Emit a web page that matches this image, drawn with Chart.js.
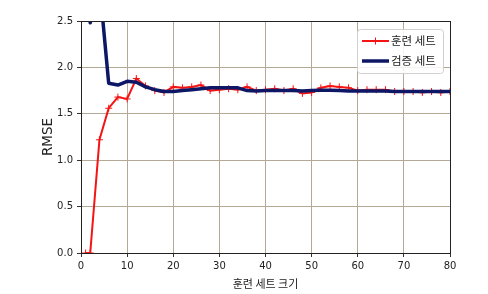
<!DOCTYPE html>
<html lang="ko">
<head>
    <meta charset="UTF-8">
    <title>Learning curves</title>
    <script src="https://cdn.jsdelivr.net/npm/chart.js@4.4.0/dist/chart.umd.min.js"></script>
    <style>
        body {
            margin: 0;
            background: #ffffff;
        }

        .chart-box {
            width: 488px;
            height: 294px;
        }
    </style>
</head>

<body>
    <div class="chart-box">
        <canvas id="myChart" width="488" height="294"></canvas>
    </div>
    <script>
        // training set sizes (x)
        const sizes = [1, 2, 4, 6, 8, 10, 12, 14, 16, 18, 20, 22, 24, 26, 28, 30, 32, 34, 36, 38, 40,
            42, 44, 46, 48, 50, 52, 54, 56, 58, 60, 62, 64, 66, 68, 70, 72, 74, 76, 78, 80];

        const trainRmse = [0, 0, 1.22, 1.56, 1.68, 1.66, 1.88, 1.80, 1.75, 1.73, 1.79,
            1.78, 1.79, 1.81, 1.75, 1.76, 1.77, 1.76, 1.79, 1.75, 1.76,
            1.77, 1.75, 1.77, 1.72, 1.73, 1.78, 1.80, 1.79, 1.78, 1.75,
            1.76, 1.76, 1.76, 1.74, 1.74, 1.74, 1.73, 1.74, 1.73, 1.74];

        const valRmse = [3.6, 2.48, 2.9, 1.83, 1.81, 1.85, 1.84, 1.79, 1.76, 1.74, 1.74,
            1.75, 1.76, 1.77, 1.78, 1.78, 1.78, 1.78, 1.75, 1.745, 1.75,
            1.75, 1.75, 1.75, 1.745, 1.75, 1.755, 1.755, 1.75, 1.745, 1.745,
            1.745, 1.745, 1.745, 1.74, 1.74, 1.74, 1.74, 1.74, 1.74, 1.74];

        const seriesNames = ["훈련 세트", "검증 세트"];
        const xTicks = [0, 10, 20, 30, 40, 50, 60, 70, 80];
        const yTicks = [0.0, 0.5, 1.0, 1.5, 2.0, 2.5];

        const xTitle = "훈련 세트 크기";
        const yTitle = "RMSE";

        const RED = "#f41414";
        const NAVY = "#0d1766";
        const GRID = "#b3a994";
        const numFont = "'DejaVu Sans', sans-serif";
        const krFont = "'Noto Sans CJK KR', 'DejaVu Sans', sans-serif";

        function toPoints(ys) {
            var pts = [];
            for (var i = 0; i < sizes.length; i++) {
                pts.push({ x: sizes[i], y: ys[i] });
            }
            return pts;
        }

        // black box round the plot, like matplotlib spines
        const framePlugin = {
            id: "frame",
            afterDatasetsDraw(chart) {
                const a = chart.chartArea;
                const ctx = chart.ctx;
                ctx.save();
                ctx.strokeStyle = "#222222";
                ctx.lineWidth = 1;
                ctx.strokeRect(Math.round(a.left) + 0.5, Math.round(a.top) + 0.5,
                    Math.round(a.right - a.left), Math.round(a.bottom - a.top));
                ctx.restore();
            }
        };

        // legend drawn inside the plot, upper right
        const boxLegend = {
            id: "boxLegend",
            afterDraw(chart) {
                const ctx = chart.ctx;
                const a = chart.chartArea;
                const w = 86, h = 44;
                const x0 = a.right - w - 7, y0 = a.top + 8;
                ctx.save();
                ctx.fillStyle = "rgba(255,255,255,0.85)";
                ctx.strokeStyle = "#d0d0d0";
                ctx.lineWidth = 1;
                ctx.beginPath();
                ctx.roundRect(x0 + 0.5, y0 + 0.5, w, h, 3);
                ctx.fill();
                ctx.stroke();

                ctx.font = "11.5px " + krFont;
                ctx.textBaseline = "middle";
                chart.data.datasets.forEach(function (ds, i) {
                    var y = y0 + 12 + i * 20;
                    ctx.strokeStyle = ds.borderColor;
                    ctx.lineWidth = ds.borderWidth;
                    ctx.beginPath();
                    ctx.moveTo(x0 + 5, y);
                    ctx.lineTo(x0 + 32, y);
                    ctx.stroke();
                    if (ds.pointRadius > 0) {
                        ctx.lineWidth = 1;
                        ctx.beginPath();
                        ctx.moveTo(x0 + 18.5, y - 3.5);
                        ctx.lineTo(x0 + 18.5, y + 3.5);
                        ctx.stroke();
                    }
                    ctx.fillStyle = "#222222";
                    ctx.fillText(ds.label, x0 + 34, y);
                });
                ctx.restore();
            }
        };

        const ctx = document.getElementById("myChart").getContext("2d");
        const myChart = new Chart(ctx, {
            type: "line",
            data: {
                datasets: [
                    {
                        label: seriesNames[0],
                        data: toPoints(trainRmse),
                        borderColor: RED,
                        backgroundColor: RED,
                        borderWidth: 2,
                        pointStyle: "cross",
                        pointRadius: 3.5,
                        pointBorderWidth: 1,
                        tension: 0,
                        order: 1
                    },
                    {
                        label: seriesNames[1],
                        data: toPoints(valRmse),
                        borderColor: NAVY,
                        backgroundColor: NAVY,
                        borderWidth: 3.5,
                        borderJoinStyle: "round",
                        pointRadius: 0,
                        tension: 0,
                        order: 0
                    }
                ]
            },
            options: {
                responsive: false,
                animation: false,
                layout: {
                    padding: { left: 0, right: 38, top: 21, bottom: 0 }
                },
                plugins: {
                    legend: { display: false },
                    tooltip: { enabled: false }
                },
                scales: {
                    x: {
                        type: "linear",
                        min: 0,
                        max: 80,
                        afterBuildTicks: function (s) {
                            s.ticks = xTicks.map(function (v) { return { value: v }; });
                        },
                        afterFit: function (s) { s.height = 41; },
                        grid: { color: GRID, tickColor: "#333333", tickLength: 4 },
                        border: { color: "#222222" },
                        ticks: {
                            color: "#222222",
                            font: { family: numFont, size: 10 },
                            padding: 3,
                            maxRotation: 0
                        },
                        title: {
                            display: true,
                            text: xTitle,
                            color: "#222222",
                            font: { family: krFont, size: 11 },
                            padding: { top: 0, bottom: 4 }
                        }
                    },
                    y: {
                        min: 0,
                        max: 2.5,
                        afterBuildTicks: function (s) {
                            s.ticks = yTicks.map(function (v) { return { value: v }; });
                        },
                        afterFit: function (s) { s.width = 81; },
                        grid: { color: GRID, tickColor: "#333333", tickLength: 4 },
                        border: { color: "#222222" },
                        ticks: {
                            color: "#222222",
                            font: { family: numFont, size: 10 },
                            padding: 4,
                            callback: function (v) { return v.toFixed(1); }
                        },
                        title: {
                            display: true,
                            text: yTitle,
                            color: "#222222",
                            font: { family: numFont, size: 13.5 },
                            padding: { top: 40, bottom: 0 }
                        }
                    }
                }
            },
            plugins: [framePlugin, boxLegend]
        });
    </script>
</body>

</html>
